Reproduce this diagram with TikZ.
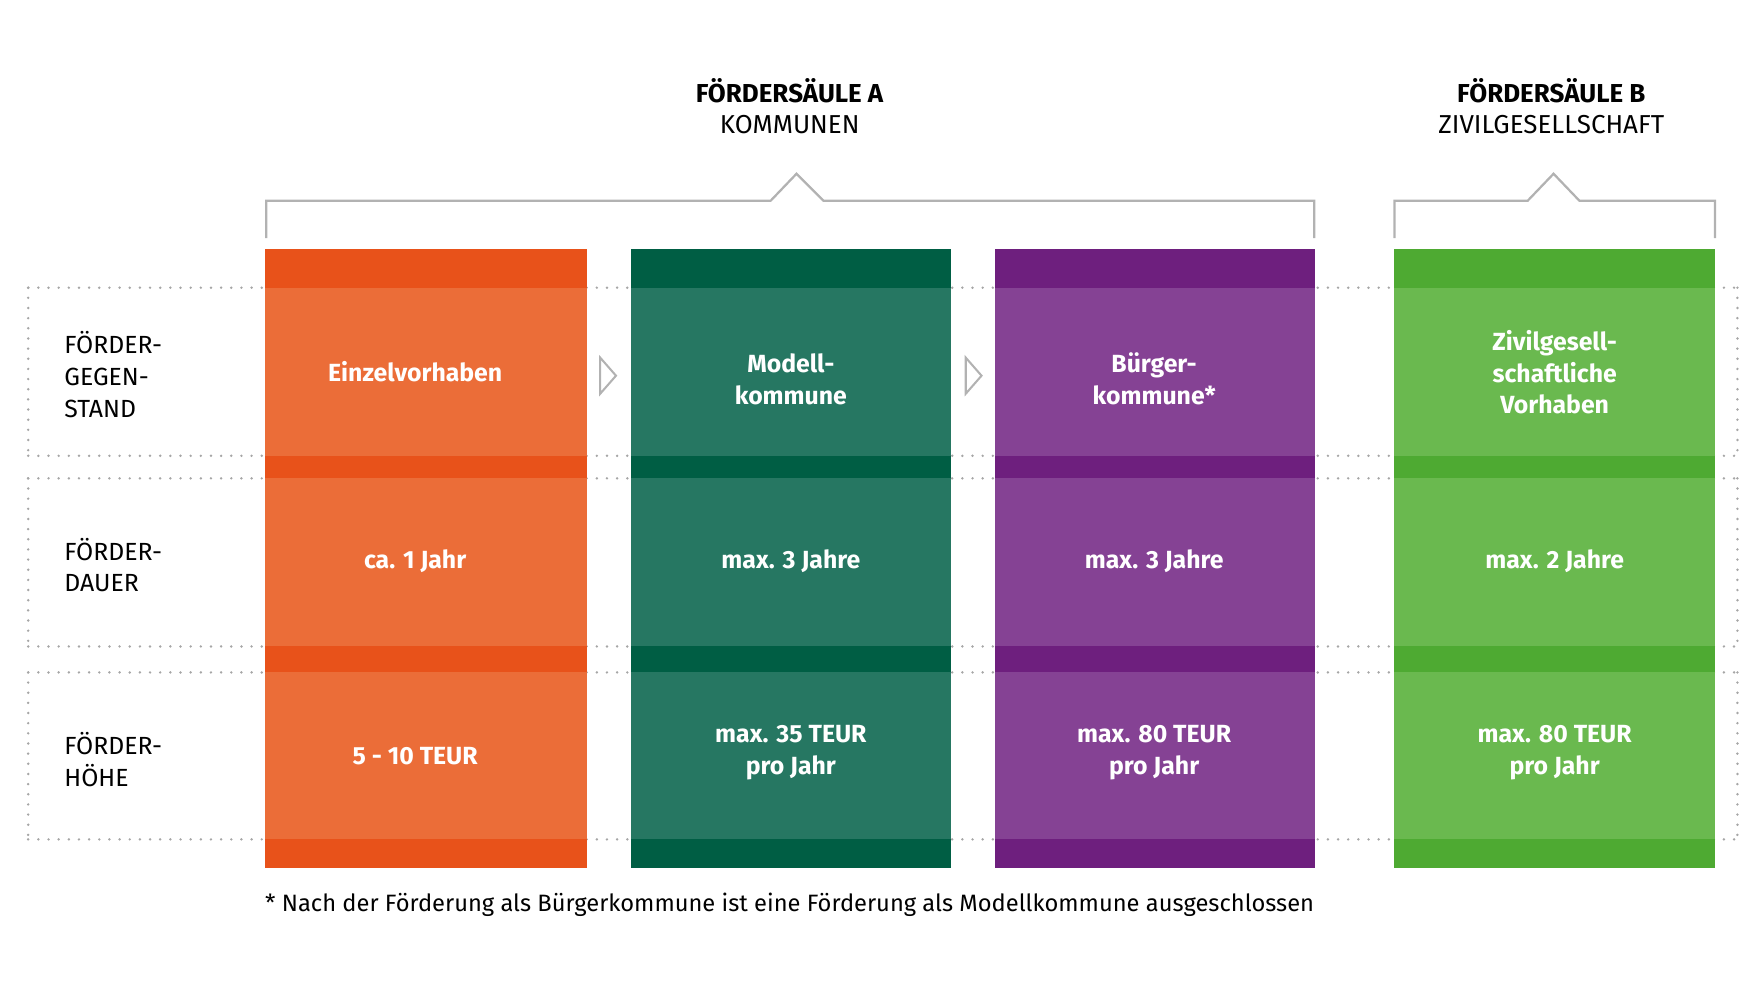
\documentclass[tikz,border=0pt]{standalone}
\usepackage{fontspec}
\setmainfont{Fira Sans}
\begin{document}
\begin{tikzpicture}[x=0.5pt,y=-0.5pt,
  lbl/.style={font=\fontsize{11}{14}\selectfont\bfseries, text=white, align=center},
  rowlbl/.style={font=\fontsize{11}{14}\selectfont, align=left, anchor=west},
  ttl/.style={font=\fontsize{11.5}{14}\selectfont, align=center},
  dotl/.style={draw=gray!70, line width=1.2pt, dash pattern=on 0pt off 4.5pt, line cap=round},
  brk/.style={draw=gray!60, line width=1pt},
  arr/.style={draw=gray!60, line width=0.9pt, fill=white}]
\useasboundingbox (0,0) rectangle (1560,877.5);
\definecolor{oD}{HTML}{E8521A}\definecolor{oL}{HTML}{EB6D38}
\definecolor{gD}{HTML}{005E44}\definecolor{gL}{HTML}{267762}
\definecolor{pD}{HTML}{6E1F7E}\definecolor{pL}{HTML}{854294}
\definecolor{lD}{HTML}{4EAA32}\definecolor{lL}{HTML}{6AB94F}
% dotted rows
\foreach \y in {255,404,424,573,596,744} \draw[dotl] (25,\y) -- (1540,\y);
\foreach \a/\b in {255/404,424/573,596/744} {\draw[dotl] (25,\a) -- (25,\b); \draw[dotl] (1540,\a) -- (1540,\b);}
% columns
\foreach \xa/\xb/\D/\L in {235/520/oD/oL,559/843/gD/gL,882/1166/pD/pL,1236/1520/lD/lL} {
  \fill[\D] (\xa,221) rectangle (\xb,769);
  \foreach \a/\b in {255/404,424/573,596/744} \fill[\L] (\xa,\a) rectangle (\xb,\b);
}
% texts
\node[lbl] (c11) at (368,329) {Einzelvorhaben};
\node[lbl] (c12) at (701,336) {Modell-\\kommune};
\node[lbl] (c13) at (1023,336) {Bürger-\\kommune*};
\node[lbl] (c14) at (1378,330) {Zivilgesell-\\schaftliche\\Vorhaben};
\node[lbl] (c21) at (368,497) {ca. 1 Jahr};
\node[lbl] (c22) at (701,497) {max. 3 Jahre};
\node[lbl] (c23) at (1023,497) {max. 3 Jahre};
\node[lbl] (c24) at (1378,497) {max. 2 Jahre};
\node[lbl] (c31) at (368,670) {5 - 10 TEUR};
\node[lbl] (c32) at (701,667) {max. 35 TEUR\\pro Jahr};
\node[lbl] (c33) at (1023,667) {max. 80 TEUR\\pro Jahr};
\node[lbl] (c34) at (1378,667) {max. 80 TEUR\\pro Jahr};
\node[rowlbl] (r1) at (50,332) {FÖRDER-\\GEGEN-\\STAND};
\node[rowlbl] (r2) at (50,501) {FÖRDER-\\DAUER};
\node[rowlbl] (r3) at (50,673) {FÖRDER-\\HÖHE};
% arrows
\draw[arr] (532,317) -- (546,333) -- (532,349) -- cycle;
\draw[arr] (856,317) -- (870,333) -- (856,349) -- cycle;
% brackets
\draw[brk] (236,211) -- (236,178) -- (683,178) -- (706,154) -- (730,178) -- (1165,178) -- (1165,211);
\draw[brk] (1236,211) -- (1236,178) -- (1354,178) -- (1377,154) -- (1400,178) -- (1520,178) -- (1520,211);
\node[ttl] (ta) at (700,94) {\textbf{FÖRDERSÄULE A}\\KOMMUNEN};
\node[ttl] (tb) at (1375,94) {\textbf{FÖRDERSÄULE B}\\ZIVILGESELLSCHAFT};
\node[font=\fontsize{10.5}{13}\selectfont, anchor=west] (fn) at (228,802) {* Nach der Förderung als Bürgerkommune ist eine Förderung als Modellkommune ausgeschlossen};
\end{tikzpicture}
\end{document}
